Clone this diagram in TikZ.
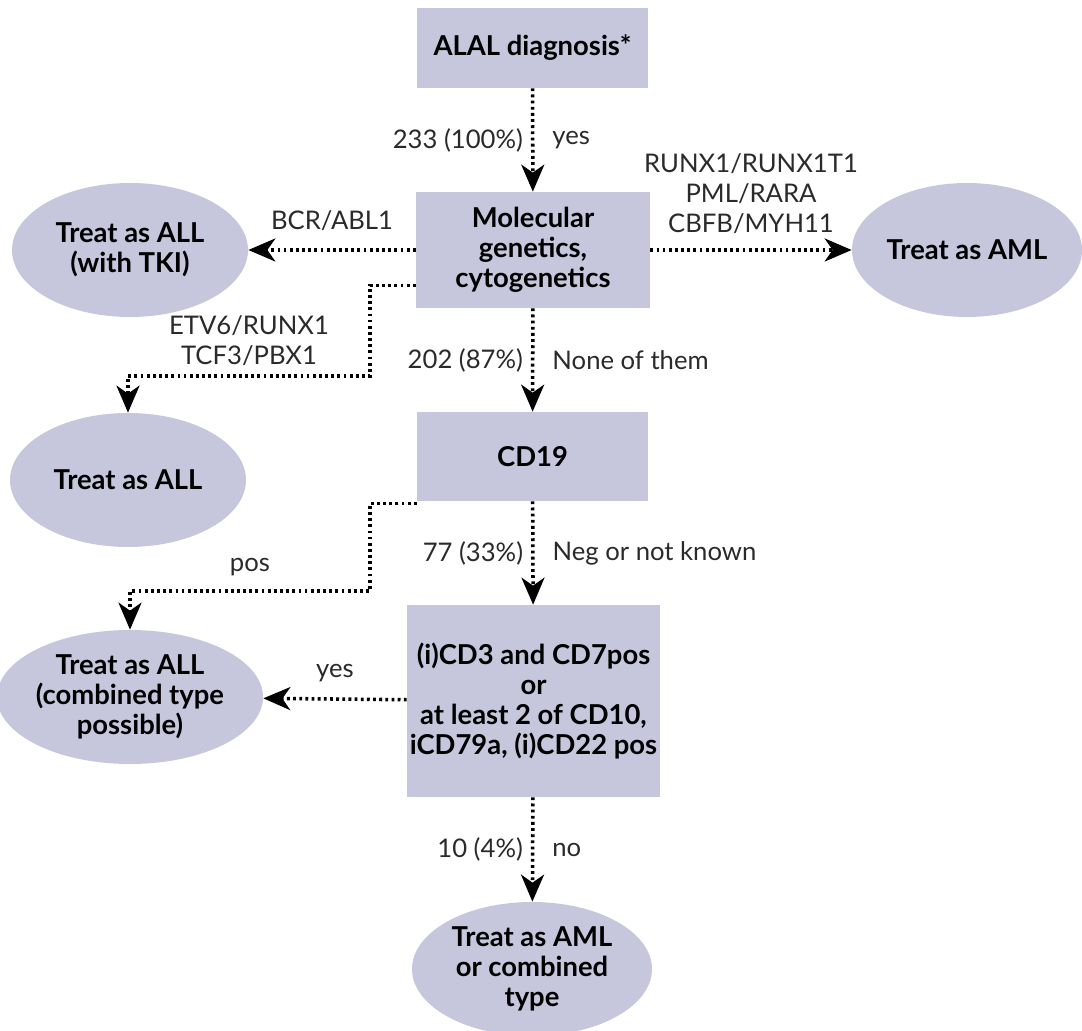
\documentclass[tikz,border=0pt]{standalone}
\usepackage{fontspec}
\setmainfont{Lato}
\setsansfont{Lato}
\usetikzlibrary{arrows.meta, positioning, shapes.geometric, calc}
\definecolor{cfill}{HTML}{C6C7DC}
\definecolor{ctext}{HTML}{2A2A2A}
\tikzset{
  every picture/.style={font=\sffamily\fontsize{14.6pt}{17pt}\selectfont},
  box/.style={fill=cfill, align=center, inner sep=0pt, font=\sffamily\bfseries\fontsize{15.6pt}{17pt}\selectfont},
  ell/.style={ellipse, fill=cfill, align=center, inner sep=0pt, minimum width=4.72cm, minimum height=2.68cm,
              font=\sffamily\bfseries\fontsize{15.6pt}{17pt}\selectfont},
  arrow/.style={-{Stealth[length=5.4mm, width=4.6mm, inset=1.6mm]}, line width=2pt,
                dash pattern=on 1.6pt off 1.9pt, draw=black},
  note/.style={text=ctext, align=center, inner sep=0pt},
  noteL/.style={note, anchor=east, xshift=-0.16cm},
  noteR/.style={note, anchor=west, xshift=0.36cm},
}

\begin{document}
\begin{tikzpicture}
  \useasboundingbox (0,0) rectangle (21.64,-20.62);
  % main column
  \node[box, minimum width=4.62cm, minimum height=1.6cm] (alal) at (10.65,-0.96) {ALAL diagnosis*};
  \node[box, minimum width=4.68cm, minimum height=2.32cm] (mol) at (10.66,-5.0) {Molecular\\genetics,\\cytogenetics};
  \node[box, minimum width=4.62cm, minimum height=1.78cm] (cd19) at (10.65,-9.13) {CD19};
  \node[box, minimum width=5.06cm, minimum height=3.84cm] (mark) at (10.67,-14.02)
    {(i)CD3 and CD7pos\\or\\at least 2 of CD10,\\iCD79a, (i)CD22 pos};
  % outcomes
  \node[ell] (tki) at (2.6,-5.0) {Treat as ALL\\(with TKI)};
  \node[ell, minimum width=4.6cm] (aml) at (19.34,-5.0) {Treat as AML};
  \node[ell] (all) at (2.56,-9.6) {Treat as ALL};
  \node[ell] (comb) at (2.6,-13.94) {Treat as ALL\\(combined type\\possible)};
  \node[ell, minimum width=4.8cm] (amlc) at (10.64,-19.38) {Treat as AML\\or combined\\type};

  \coordinate (m1) at ([yshift=0.46cm]mol.south west);
  \coordinate (m2) at (7.4,-7.52);
  \coordinate (c1) at ([yshift=-0.04cm]cd19.south west);
  \coordinate (c2) at (7.4,-11.82);

  \draw[arrow] (alal) -- node[noteL] {233 (100\%)} node[noteR] {yes} (mol);
  \draw[arrow] (mol) -- node[note, above=0.36cm] {BCR/ABL1} (tki);
  \draw[arrow] (mol) -- node[note, above=0.3cm] {RUNX1/RUNX1T1\\PML/RARA\\CBFB/MYH11} (aml);
  \draw[arrow] (m1) -| (m2) -| node[note, pos=0.25, above=0.18cm] {ETV6/RUNX1\\TCF3/PBX1} (all);
  \draw[arrow] (mol) -- node[noteL] {202 (87\%)} node[noteR] {None of them} (cd19);
  \draw[arrow] (c1) -| (c2) -| node[note, pos=0.25, above=0.26cm] {pos} (comb);
  \draw[arrow] (cd19) -- node[noteL] {77 (33\%)} node[noteR] {Neg or not known} (mark);
  \draw[arrow] (mark) -- node[note, above=0.3cm] {yes} (comb);
  \draw[arrow] (mark) -- node[noteL] {10 (4\%)} node[noteR] {no} (amlc);
\end{tikzpicture}
\end{document}
